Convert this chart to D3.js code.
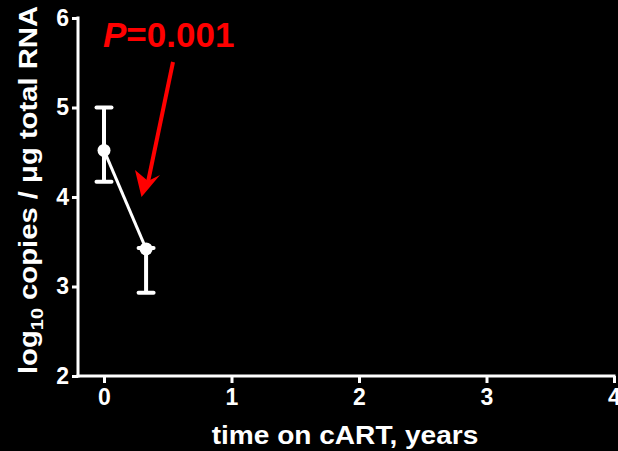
<!DOCTYPE html>
<html><head><meta charset="utf-8">
<script src="https://cdn.jsdelivr.net/npm/d3@7"></script>
<style>body{margin:0;background:#000;}svg{display:block;}</style>
</head><body>
<script>
const years = [0, 0.33];
const means = [4.52, 3.42];
const lower = [4.17, 2.93];
const upper = [5.0, 3.43];
const xTicks = [0, 1, 2, 3, 4];
const yTicks = [2, 3, 4, 5, 6];
const pLabel = ["P", "=0.001"];

const W = 618, H = 451;
const svg = d3.select("body").append("svg").attr("width", W).attr("height", H)
  .style("background", "#000");
const x = d3.scaleLinear().domain([0, 4]).range([104, 614]);
const y = d3.scaleLinear().domain([2, 6]).range([376, 18]);
const font = "'Liberation Sans', Arial, sans-serif";

// y axis
const ya = svg.append("g").attr("transform", "translate(78,0)")
  .call(d3.axisLeft(y).tickValues(yTicks).tickSize(6).tickPadding(3).tickFormat(d3.format("d")));
// x axis
const xa = svg.append("g").attr("transform", "translate(0,376)")
  .call(d3.axisBottom(x).tickValues(xTicks).tickSize(7).tickPadding(6).tickFormat(d3.format("d")));
[ya, xa].forEach(g => {
  g.select(".domain").remove();
  g.selectAll("line").attr("stroke", "#fff").attr("stroke-width", 3);
  g.selectAll("text").attr("fill", "#fff").attr("font-family", font)
    .attr("font-weight", "bold").attr("font-size", 23);
});
svg.append("line").attr("x1", 78).attr("x2", 78).attr("y1", y(6) - 1.5).attr("y2", y(2) + 1.5)
  .attr("stroke", "#fff").attr("stroke-width", 3);
svg.append("line").attr("x1", 76.5).attr("x2", x(4) + 1.5).attr("y1", 376).attr("y2", 376)
  .attr("stroke", "#fff").attr("stroke-width", 3);

// axis titles
svg.append("text").attr("transform", "translate(345,444) scale(1.08,1)").attr("text-anchor", "middle")
  .attr("fill", "#fff").attr("font-family", font).attr("font-weight", "bold").attr("font-size", 26)
  .text("time on cART, years");
const yl = svg.append("text").attr("transform", "translate(37,190) rotate(-90) scale(1.17,1)").attr("text-anchor", "middle")
  .attr("fill", "#fff").attr("font-family", font).attr("font-weight", "bold").attr("font-size", 25);
yl.append("tspan").text("log");
yl.append("tspan").attr("font-size", 17).attr("dy", 6).text("10");
yl.append("tspan").attr("dy", -6).text(" copies / \u03bcg total RNA");

// data
const pts = years.map((v, i) => ({x: v, m: means[i], lo: lower[i], hi: upper[i]}));
svg.append("path").datum(pts)
  .attr("d", d3.line().x(d => x(d.x)).y(d => y(d.m)))
  .attr("fill", "none").attr("stroke", "#fff").attr("stroke-width", 3);
const eb = svg.append("g").selectAll("g").data(pts).join("g");
eb.append("line").attr("x1", d => x(d.x)).attr("x2", d => x(d.x))
  .attr("y1", d => y(d.lo)).attr("y2", d => y(d.hi)).attr("stroke", "#fff").attr("stroke-width", 4);
eb.append("line").attr("x1", d => x(d.x) - 7.5).attr("x2", d => x(d.x) + 7.5)
  .attr("y1", d => y(d.lo)).attr("y2", d => y(d.lo)).attr("stroke", "#fff").attr("stroke-width", 4).attr("stroke-linecap", "round");
eb.append("line").attr("x1", d => x(d.x) - 7.5).attr("x2", d => x(d.x) + 7.5)
  .attr("y1", d => y(d.hi)).attr("y2", d => y(d.hi)).attr("stroke", "#fff").attr("stroke-width", 4).attr("stroke-linecap", "round");
eb.append("circle").attr("cx", d => x(d.x)).attr("cy", d => y(d.m)).attr("r", 6.5).attr("fill", "#fff");

// annotation
const red = "#ff0000";
const pt = svg.append("text").attr("x", 103).attr("y", 47).attr("fill", red)
  .attr("font-family", font).attr("font-weight", "bold").attr("font-size", 35);
pt.append("tspan").attr("font-style", "italic").text(pLabel[0]);
pt.append("tspan").text(pLabel[1]);
svg.append("line").attr("x1", 173).attr("y1", 62).attr("x2", 148).attr("y2", 182)
  .attr("stroke", red).attr("stroke-width", 4);
svg.append("path").attr("d", "M141.5,197 L135,170 L148,181 L160,175 Z").attr("fill", red);
</script>
</body></html>
